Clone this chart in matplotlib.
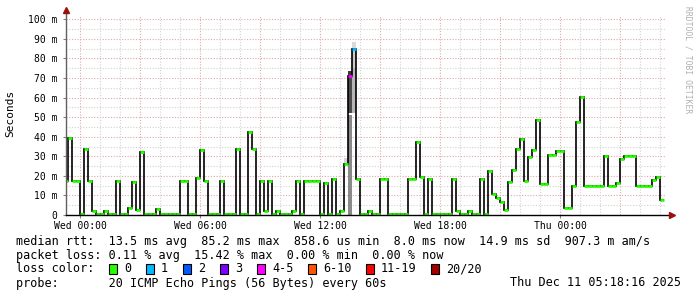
import numpy as np
import matplotlib
matplotlib.use("Agg")
import matplotlib.pyplot as plt
from matplotlib.patches import Rectangle

# median rtt in ms, one value per 12 minute step, hours counted from Wed 00:00
start_h = -0.815
step_h = 0.2
median_ms = [
    17.3, 39.1, 17.3, 17.3, 0.5, 33.7, 17.3, 2.0, 0.5, 0.5,
    2.0, 0.5, 0.5, 17.3, 0.5, 0.5, 3.6, 16.7, 2.5, 32.1,
    0.5, 0.5, 0.5, 3.0, 0.5, 0.5, 0.5, 0.5, 0.5, 17.3,
    17.3, 0.5, 0.5, 19.0, 33.3, 17.3, 0.5, 0.5, 0.5, 17.3,
    0.5, 0.5, 0.5, 33.8, 0.5, 0.5, 42.3, 33.8, 0.5, 17.2,
    2.0, 17.2, 0.5, 2.0, 0.5, 0.5, 0.5, 2.0, 17.2, 0.5,
    17.2, 17.2, 17.2, 17.5, 0.5, 16.2, 0.5, 18.5, 0.5, 2.0,
    26.2, 71.0, 84.7, 18.4, 0.5, 0.5, 2.0, 0.5, 0.5, 18.4,
    18.4, 0.5, 0.5, 0.5, 0.5, 0.5, 18.4, 18.4, 37.2, 19.6,
    0.5, 18.4, 0.5, 0.5, 0.5, 0.5, 0.5, 18.5, 1.9, 0.5,
    0.5, 1.9, 0.5, 0.5, 18.6, 0.5, 22.4, 10.5, 8.5, 6.6,
    2.6, 17.0, 22.8, 33.7, 38.6, 17.3, 29.8, 33.0, 48.8, 15.6,
    15.6, 30.8, 30.8, 32.6, 32.6, 3.6, 3.6, 15.0, 47.6, 60.4,
    15.0, 15.0, 15.0, 15.0, 15.0, 30.3, 15.0, 15.0, 16.5, 28.7,
    30.1, 30.1, 30.1, 15.0, 15.0, 15.0, 15.0, 17.9, 19.2, 7.8,
]

# steps with lost pings and their loss bucket
lossy_steps = [71, 72]
lossy_bucket = [4, 1]

# smoke (spread of the pings) where it shows
smoke_steps = [70, 71, 71, 71, 72, 72, 72]
smoke_lo = [26.5, 0.0, 52.0, 70.0, 52.0, 75.0, 84.0]
smoke_hi = [29.0, 51.0, 70.0, 73.5, 75.0, 84.0, 88.5]
smoke_grey = ["#d4d4d4", "#8a8a8a", "#4c4c4c", "#3a3a3a", "#b6b6b6", "#cbcbcb", "#dadada"]

loss_labels = ["0", "1", "2", "3", "4-5", "6-10", "11-19", "20/20"]
loss_colors = ["#26ff00", "#00b8ff", "#0059ff", "#7e00ff", "#ff00ff", "#ff5500", "#ff0000", "#a10000"]

tick_hours = [0, 6, 12, 18, 24]
tick_labels = ["Wed 00:00", "Wed 06:00", "Wed 12:00", "Wed 18:00", "Thu 00:00"]

MONO = "DejaVu Sans Mono"
W, H = 697, 297

fig = plt.figure(figsize=(W / 100, H / 100), dpi=100)
ax = fig.add_axes([66 / W, 82 / H, 600 / W, 200 / H])
ax.set_xlim(-0.7, 29.3)
ax.set_ylim(0, 102.2)

# grid: dotted, grey every 5 ms / hour, red every 10 ms / 3 hours
for v in range(5, 101, 5):
    col = "#e0a8a8" if v % 10 == 0 else "#d2d2d2"
    ax.axhline(v, color=col, lw=0.8, ls=(0, (1, 1.5)), zorder=0)
for h in range(0, 30):
    col = "#e0a8a8" if h % 3 == 0 else "#d2d2d2"
    ax.axvline(h, color=col, lw=0.8, ls=(0, (1, 1.5)), zorder=0)

edges = start_h + step_h * np.arange(len(median_ms) + 1)
vals = np.array(median_ms)

# smoke
for s, lo, hi, g in zip(smoke_steps, smoke_lo, smoke_hi, smoke_grey):
    ax.bar(edges[s], hi - lo, bottom=lo, width=step_h, align="edge",
           color=g, lw=0, zorder=1)

# median line + loss colour
ax.stairs(vals, edges, baseline=None, color="black", lw=1.2, zorder=2)
cols = [loss_colors[0]] * len(median_ms)
for s, b in zip(lossy_steps, lossy_bucket):
    cols[s] = loss_colors[b]
ax.hlines(vals, edges[:-1], edges[1:], colors=cols, lw=2.0, zorder=3)

# axes
for sp in ["top", "right", "left", "bottom"]:
    ax.spines[sp].set_visible(False)
ax.plot([-0.7, -0.7], [0, 104.8], color="#606060", lw=1.0, clip_on=False, zorder=4)
ax.plot([-0.7, 29.5], [0, 0], color="black", lw=1.0, clip_on=False, zorder=4)
ax.plot([-0.7], [104.8], marker="^", ms=4.5, color="#9a1010", clip_on=False, zorder=5)
ax.plot([29.6], [0], marker=">", ms=4.5, color="#9a1010", clip_on=False, zorder=5)

ax.set_yticks(range(0, 101, 10))
ax.set_yticklabels(["0"] + ["%d m" % v for v in range(10, 101, 10)],
                   family=MONO, fontsize=7)
ax.set_xticks(tick_hours)
ax.set_xticklabels(tick_labels, family=MONO, fontsize=7)
ax.tick_params(axis="y", length=2, pad=4, color="#808080")
ax.tick_params(axis="x", length=2, pad=2, color="#808080")

fig.text(10 / W, 1 - 113 / H, "Seconds", rotation=90, family=MONO, fontsize=8,
         ha="center", va="center")
fig.text(688 / W, 1 - 60 / H, "RRDTOOL / TOBI OETIKER", rotation=270, family=MONO,
         fontsize=5.8, color="#b0b0b0", ha="center", va="center")

# legend block
def put(x, y, s, ha="left"):
    fig.text(x / W, 1 - y / H, s, family=MONO, fontsize=8.5, ha=ha, va="center")

put(16, 241, "median rtt:  13.5 ms avg  85.2 ms max  858.6 us min  "
             "8.0 ms now  14.9 ms sd  907.3 m am/s")
put(16, 255, "packet loss: 0.11 % avg  15.42 % max  0.00 % min  0.00 % now")

put(16, 269, "loss color:")
box_x = [109, 146, 183, 220, 257, 308, 366, 431]
for bx, lab, c in zip(box_x, loss_labels, loss_colors):
    fig.patches.append(Rectangle((bx / W, 1 - 274 / H), 8 / W, 10 / H,
                                 transform=fig.transFigure, facecolor=c,
                                 edgecolor="black", lw=0.8))
    put(bx + 15, 269, lab)

put(16, 283, "probe:       20 ICMP Echo Pings (56 Bytes) every 60s")
put(681, 283, "Thu Dec 11 05:18:16 2025", ha="right")

fig.savefig("out.png", dpi=100, facecolor="white")
